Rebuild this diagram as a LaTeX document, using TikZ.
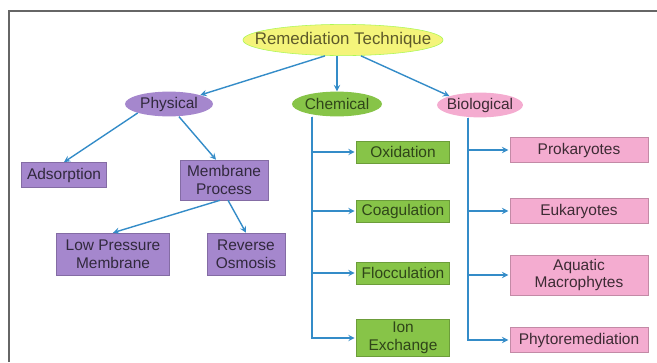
\documentclass[tikz,border=0pt]{standalone}
\usepackage{fontspec}
\setmainfont{Liberation Sans}
\usetikzlibrary{shapes,arrows,positioning,calc}
\definecolor{rootcolor}{RGB}{244,244,122}
\definecolor{physcolor}{RGB}{165,135,205}
\definecolor{chemcolor}{RGB}{135,196,72}
\definecolor{biocolor}{RGB}{244,172,208}
\definecolor{linkcolor}{RGB}{52,140,200}

\begin{document}
\begin{tikzpicture}[x=0.025cm, y=-0.025cm,
    top/.style={ellipse, draw=rootcolor!70!green, fill=rootcolor, minimum width=5cm, minimum height=0.78cm, inner xsep=-0.6cm, inner ysep=0pt, text=olive!55!black, font=\fontsize{12}{14}\selectfont},
    group/.style={ellipse, minimum width=2.2cm, minimum height=0.62cm, inner xsep=-0.2cm, inner ysep=0pt, font=\fontsize{11}{13}\selectfont},
    item/.style={rectangle, minimum height=0.6cm, align=center, inner sep=1pt, font=\fontsize{11}{12.5}\selectfont},
    physbox/.style={item, draw=physcolor!80!black, fill=physcolor, text=physcolor!30!black},
    chembox/.style={item, draw=chemcolor!80!black, fill=chemcolor, text=chemcolor!35!black, minimum width=2.33cm, minimum height=0.56cm},
    biobox/.style={item, draw=biocolor!80!black, fill=biocolor, text=biocolor!25!black, minimum width=3.45cm, minimum height=0.62cm},
    link/.style={->, >=stealth, line width=1pt, linkcolor},
]
    \useasboundingbox (0,0) rectangle (657,362);
    % Frame
    \draw[gray!80!black, line width=2pt] (9,362) -- (9,11) -- (657,11);

    % Root
    \node[top] (root) at (343,40) {Remediation Technique};

    % Groups
    \node[group, fill=physcolor, text=physcolor!30!black] (phys) at (169,104) {Physical};
    \node[group, fill=chemcolor, text=chemcolor!35!black, minimum width=2.25cm] (chem) at (337,104) {Chemical};
    \node[group, fill=biocolor, text=biocolor!25!black, minimum width=2.15cm] (bio) at (480,105) {Biological};

    % Physical
    \node[physbox, minimum width=2.13cm, minimum height=0.63cm] (ads) at (64,175) {Adsorption};
    \node[physbox, minimum width=2.2cm, minimum height=1cm] (mem) at (224,180) {Membrane\\Process};
    \node[physbox, minimum width=2.83cm, minimum height=1.05cm] (lpm) at (113,254) {Low Pressure\\Membrane};
    \node[physbox, minimum width=1.95cm, minimum height=1.05cm] (ro) at (246,254) {Reverse\\Osmosis};

    % Chemical
    \node[chembox] (oxi) at (403,152) {Oxidation};
    \node[chembox] (coag) at (403,211) {Coagulation};
    \node[chembox] (floc) at (403,273) {Flocculation};
    \node[chembox, minimum height=0.93cm] (ion) at (403,338) {Ion\\Exchange};

    % Biological
    \node[biobox] (pro) at (579,150) {Prokaryotes};
    \node[biobox] (euk) at (579,211) {Eukaryotes};
    \node[biobox, minimum height=1cm] (aqua) at (579,275) {Aquatic\\Macrophytes};
    \node[biobox] (phyto) at (579,340) {Phytoremediation};

    % Arrows
    \draw[link] ([xshift=-0.45cm]root.south) -- (phys.north east);
    \draw[link] (chem.north |- root.south) -- (chem.north);
    \draw[link] ([xshift=0.45cm]root.south) -- (bio.north west);

    \draw[link] (phys.south west) -- (ads.north);
    \draw[link] ([xshift=0.25cm]phys.south) -- ([xshift=-0.2cm]mem.north);
    \draw[link] ([xshift=-0.1cm]mem.south) -- (lpm.north);
    \draw[link] ([xshift=0.1cm]mem.south) -- (ro.north);

    \foreach \n in {oxi, coag, floc, ion} {
        \draw[link] ([xshift=-0.62cm]chem.south) |- ([xshift=-1pt]\n.west);
    }
    \foreach \n in {pro, euk, aqua, phyto} {
        \draw[link] ([xshift=-0.3cm]bio.south) |- ([xshift=-1pt]\n.west);
    }
\end{tikzpicture}
\end{document}
